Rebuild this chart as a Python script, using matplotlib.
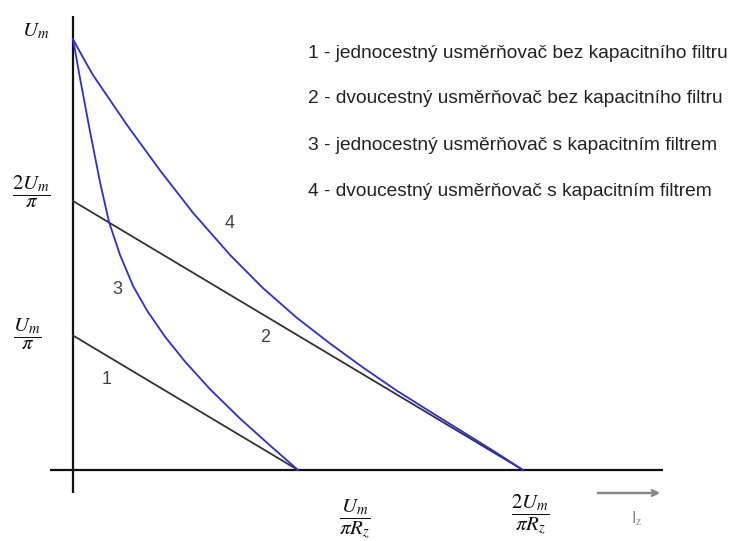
import numpy as np
import matplotlib
matplotlib.use("Agg")
import matplotlib.pyplot as plt

plt.rcParams['mathtext.fontset'] = 'stix'

# x in units of Um/(pi*Rz), y in units of Um/pi
line1_x = [0.0, 1.0]
line1_y = [1.0, 0.0]
line2_x = [0.0, 2.0]
line2_y = [2.0, 0.0]

# curve 3 - jednocestny s filtrem
c3_x = [0.0, 0.031, 0.076, 0.12, 0.16, 0.209, 0.267, 0.329, 0.409, 0.498, 0.609, 0.742, 0.876, 1.0]
c3_y = [3.204, 2.914, 2.513, 2.141, 1.844, 1.599, 1.368, 1.186, 0.991, 0.806, 0.601, 0.383, 0.182, 0.0]

# curve 4 - dvoucestny s filtrem
c4_x = [0.0, 0.045, 0.089, 0.24, 0.387, 0.533, 0.698, 0.844, 0.996, 1.142, 1.289, 1.44, 1.587, 1.733, 1.884, 2.0]
c4_y = [3.204, 3.065, 2.936, 2.565, 2.227, 1.913, 1.599, 1.353, 1.130, 0.941, 0.762, 0.589, 0.434, 0.283, 0.126, 0.0]

legend_lines = [
    "1 - jednocestný usměrňovač bez kapacitního filtru",
    "2 - dvoucestný usměrňovač bez kapacitního filtru",
    "3 - jednocestný usměrňovač s kapacitním filtrem",
    "4 - dvoucestný usměrňovač s kapacitním filtrem",
]

fig = plt.figure(figsize=(7.31, 5.41), dpi=100)
ax = fig.add_axes([0, 0, 1, 1])
px_x, px_y = 225.0, 134.5
ax.set_xlim(-73 / px_x, (731 - 73) / px_x)
ax.set_ylim(-(541 - 470) / px_y, 470 / px_y)
ax.axis('off')

# axes
ax.plot([-23 / px_x, 590 / px_x], [0, 0], color='#111111', lw=1.6, solid_capstyle='butt')
ax.plot([0, 0], [-23 / px_y, 454 / px_y], color='#111111', lw=1.6, solid_capstyle='butt')

ax.plot(line1_x, line1_y, color='#333333', lw=1.3)
ax.plot(line2_x, line2_y, color='#333333', lw=1.3)
ax.plot(c3_x, c3_y, color='#2a2af0', lw=1.3)
ax.plot(c4_x, c4_y, color='#2a2af0', lw=1.3)

# curve numbers
num_kw = dict(fontsize=13, color='#444444', family='Liberation Sans', ha='center', va='center')
ax.text((107 - 73) / px_x, (470 - 380) / px_y, "1", **num_kw)
ax.text((265 - 73) / px_x, (470 - 337) / px_y, "2", **num_kw)
ax.text((117 - 73) / px_x, (470 - 290) / px_y, "3", **num_kw)
ax.text((230 - 73) / px_x, (470 - 223) / px_y, "4", **num_kw)

# legend text
for i, s in enumerate(legend_lines):
    ax.text((308 - 73) / px_x, (470 - (53 + 46 * i)) / px_y, s, fontsize=13.8,
            color='#222222', family='Liberation Sans', ha='left', va='center')

# axis labels
lab_kw = dict(fontsize=15, color='#111111', ha='center', va='center')
ax.text((36 - 73) / px_x, (470 - 31) / px_y, r'$U_{m}$', **lab_kw)
ax.text((31 - 73) / px_x, (470 - 192) / px_y, r'$\dfrac{2U_{m}}{\pi}$', **lab_kw)
ax.text((27 - 73) / px_x, (470 - 334) / px_y, r'$\dfrac{U_{m}}{\pi}$', **lab_kw)
ax.text((355 - 73) / px_x, (470 - 519) / px_y, r'$\dfrac{U_{m}}{\pi R_{z}}$', **lab_kw)
ax.text((530 - 73) / px_x, (470 - 515) / px_y, r'$\dfrac{2U_{m}}{\pi R_{z}}$', **lab_kw)

# current arrow
ax.annotate('', xy=((663 - 73) / px_x, -(493 - 470) / px_y),
            xytext=((595 - 73) / px_x, -(493 - 470) / px_y),
            arrowprops=dict(arrowstyle='->', color='#888888', lw=1.8))
ax.text((637 - 73) / px_x, -(519 - 470) / px_y, r'I$_\mathrm{z}$', fontsize=12,
        color='#888888', family='Liberation Sans', ha='center', va='center')

fig.savefig('out.png', dpi=100)
